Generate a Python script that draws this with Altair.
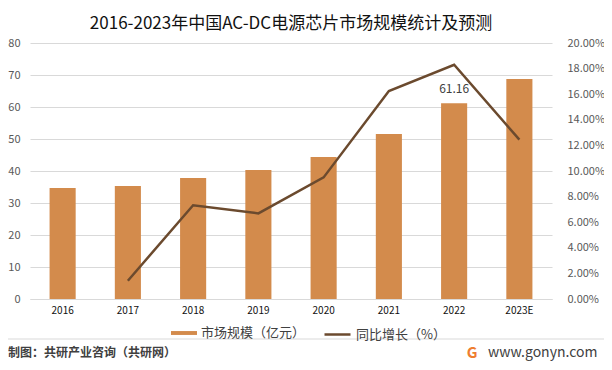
import altair as alt
import pandas as pd

years = ["2016", "2017", "2018", "2019", "2020", "2021", "2022", "2023E"]
market = [34.7, 35.3, 37.8, 40.3, 44.4, 51.6, 61.16, 68.75]
growth = [None, 0.0143, 0.0732, 0.0669, 0.095, 0.1625, 0.183, 0.1245]
labels = ["", "", "", "", "", "", "61.16", ""]

BAR_NAME = "市场规模（亿元）"
LINE_NAME = "同比增长（%）"
FONT = "Noto Sans CJK SC"
ORANGE = "#D38B4C"
BROWN = "#6B4A2E"

df = pd.DataFrame({"year": years, "market": market, "growth": growth, "label": labels})
df["bar_s"] = BAR_NAME
df["line_s"] = LINE_NAME

W, H = 522, 256

xenc = alt.X("year:O", sort=years, title=None,
             scale=alt.Scale(paddingInner=0.6, paddingOuter=0.3),
             axis=alt.Axis(labelAngle=0, labelFontSize=10, labelColor="#111111", labelFont=FONT,
                           ticks=False, domain=True, domainColor="#D9D9D9", labelPadding=6))

yleft = alt.Y("market:Q", title=None, scale=alt.Scale(domain=[0, 80]),
              axis=alt.Axis(values=[0, 10, 20, 30, 40, 50, 60, 70, 80], grid=True, gridColor="#D9D9D9",
                            domain=False, ticks=False, labelFontSize=11, labelColor="#595959",
                            labelFont=FONT, labelPadding=10, labelOverlap=False))

base = alt.Chart(df).encode(x=xenc, y=yleft)

bars = base.mark_bar(color=ORANGE).encode(
    color=alt.Color("bar_s:N", scale=alt.Scale(domain=[BAR_NAME], range=[ORANGE]),
                    legend=alt.Legend(title=None, orient="none", legendX=141, legendY=277,
                                      symbolType="M-1,-0.15H1V0.15H-1Z", symbolSize=676,
                                      labelFontSize=13, labelFont=FONT, labelColor="#404040",
                                      symbolStrokeWidth=0)),
)

text = base.mark_text(dy=-14, fontSize=12, font=FONT, color="#404040").encode(text="label:N")

left_layer = alt.layer(bars, text)

line = alt.Chart(df).mark_line(strokeWidth=2.5).encode(
    x=alt.X("year:O", sort=years),
    y=alt.Y("growth:Q", title=None, scale=alt.Scale(domain=[0, 0.2]),
            axis=alt.Axis(orient="right", values=[0, 0.02, 0.04, 0.06, 0.08, 0.10, 0.12, 0.14, 0.16, 0.18, 0.20],
                          format=".2%", grid=False, domain=False, ticks=False, labelFontSize=11,
                          labelColor="#595959", labelFont=FONT, labelPadding=15, labelOverlap=False)),
    stroke=alt.Stroke("line_s:N", scale=alt.Scale(domain=[LINE_NAME], range=[BROWN]),
                      legend=alt.Legend(title=None, orient="none", legendX=293, legendY=277,
                                        symbolType="stroke", symbolSize=676, symbolStrokeWidth=2.5,
                                        labelFontSize=13, labelFont=FONT, labelColor="#404040")),
)

footer_left = alt.Chart(pd.DataFrame({"t": ["制图：共研产业咨询（共研网）"]})).mark_text(
    align="left", baseline="middle", fontSize=12, font=FONT, fontWeight="bold", color="#404040"
).encode(text="t:N", x=alt.value(-22), y=alt.value(310))

footer_right = alt.Chart(pd.DataFrame({"t": ["www.gonyn.com"]})).mark_text(
    align="left", baseline="middle", fontSize=14, font=FONT, color="#404040"
).encode(text="t:N", x=alt.value(458), y=alt.value(310))

logo = alt.Chart(pd.DataFrame({"t": ["G"]})).mark_text(
    align="center", baseline="middle", fontSize=15, font=FONT, fontWeight="bold", color="#EE7D31"
).encode(text="t:N", x=alt.value(442), y=alt.value(310))

sep = alt.Chart(pd.DataFrame({"a": [0]})).mark_rule(color="#D9D9D9", strokeWidth=1).encode(
    x=alt.value(-22), x2=alt.value(574), y=alt.value(296))

chart = alt.layer(left_layer, line, footer_left, footer_right, logo, sep).resolve_scale(
    y="independent", color="independent", stroke="independent"
).properties(
    width=W, height=H,
    autosize=alt.AutoSizeParams(type="none"),
    padding={"left": 22, "top": 35, "right": 52, "bottom": 63},
    title=alt.Title("2016-2023年中国AC-DC电源芯片市场规模统计及预测", fontSize=17, font=FONT,
                    fontWeight="normal", color="#111111", anchor="middle", offset=4),
).configure_view(stroke=None)

chart.save("out.html", embed_options={"renderer": "svg", "actions": False})
